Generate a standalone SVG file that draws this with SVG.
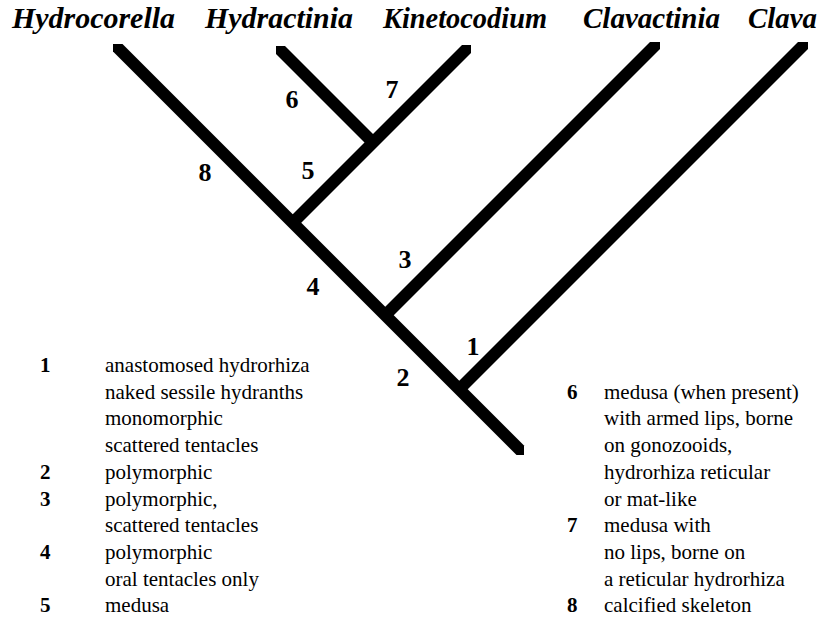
<svg xmlns="http://www.w3.org/2000/svg" width="821" height="618" viewBox="0 0 821 618">
<style>
.bg{fill:#fff}
.br{fill:#000}
text{font-family:'Liberation Serif','DejaVu Serif',Times,serif;fill:#000}
.taxon{font-weight:bold;font-style:italic;font-size:29px}
.lbl{font-weight:bold;font-size:26px;text-anchor:middle}
.num{font-weight:bold;font-size:21px}
.txt{font-size:21px}
</style>
<rect class="bg" x="0" y="0" width="821" height="618"/>
<g id="taxa" font-family="Liberation Serif, DejaVu Serif, serif">
<text class="taxon" x="12" y="28" textLength="163" lengthAdjust="spacingAndGlyphs">Hydrocorella</text>
<text class="taxon" x="205" y="28" textLength="148" lengthAdjust="spacingAndGlyphs">Hydractinia</text>
<text class="taxon" x="383" y="28" textLength="164" lengthAdjust="spacingAndGlyphs">Kinetocodium</text>
<text class="taxon" x="583" y="28" textLength="137" lengthAdjust="spacingAndGlyphs">Clavactinia</text>
<text class="taxon" x="748" y="28" textLength="69" lengthAdjust="spacingAndGlyphs">Clava</text>
</g>
<g id="connectors">
<polygon class="br" points="113,44 122.5,44 524,445.5 524,455 516.5,455 113,51.5"/>
<polygon class="br" points="276,46 285,46 377.25,138.25 368.75,146.75 276,54"/>
<polygon class="br" points="462,45 471,45 471,53 297,227 288.5,218.5"/>
<polygon class="br" points="650,42 660,42 660,49 389.5,319.5 381,311"/>
<polygon class="br" points="798,42 808,42 808,49 463.5,393.5 455,385"/>
</g>
<g id="character-labels">
<text class="lbl" x="292" y="108">6</text>
<text class="lbl" x="392" y="98">7</text>
<text class="lbl" x="205" y="181">8</text>
<text class="lbl" x="308" y="179">5</text>
<text class="lbl" x="405" y="268">3</text>
<text class="lbl" x="313" y="295">4</text>
<text class="lbl" x="473" y="355">1</text>
<text class="lbl" x="403" y="386">2</text>
</g>
<g id="legend-left">
<text class="num" x="40" y="372">1</text>
<text class="txt" x="105" y="372">anastomosed hydrorhiza</text>
<text class="txt" x="105" y="398.7">naked sessile hydranths</text>
<text class="txt" x="105" y="425.4">monomorphic</text>
<text class="txt" x="105" y="452.1">scattered tentacles</text>
<text class="num" x="40" y="478.8">2</text>
<text class="txt" x="105" y="478.8">polymorphic</text>
<text class="num" x="40" y="505.5">3</text>
<text class="txt" x="105" y="505.5">polymorphic,</text>
<text class="txt" x="105" y="532.2">scattered tentacles</text>
<text class="num" x="40" y="558.9">4</text>
<text class="txt" x="105" y="558.9">polymorphic</text>
<text class="txt" x="105" y="585.6">oral tentacles only</text>
<text class="num" x="40" y="612.3">5</text>
<text class="txt" x="105" y="612.3">medusa</text>
</g>
<g id="legend-right">
<text class="num" x="567" y="398.7">6</text>
<text class="txt" x="604" y="398.7">medusa (when present)</text>
<text class="txt" x="604" y="425.4">with armed lips, borne</text>
<text class="txt" x="604" y="452.1">on gonozooids,</text>
<text class="txt" x="604" y="478.8">hydrorhiza reticular</text>
<text class="txt" x="604" y="505.5">or mat-like</text>
<text class="num" x="567" y="532.2">7</text>
<text class="txt" x="604" y="532.2">medusa with</text>
<text class="txt" x="604" y="558.9">no lips, borne on</text>
<text class="txt" x="604" y="585.6">a reticular hydrorhiza</text>
<text class="num" x="567" y="612.3">8</text>
<text class="txt" x="604" y="612.3">calcified skeleton</text>
</g>
</svg>
